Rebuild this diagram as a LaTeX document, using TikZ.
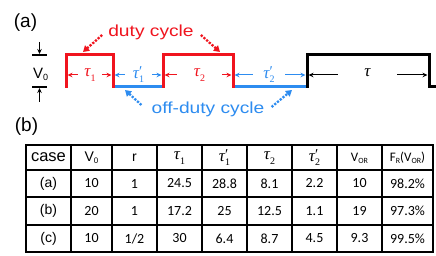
\documentclass[tikz,border=0pt]{standalone}
\usepackage{fontspec}
\usepackage{graphicx}
\setmainfont{Liberation Sans}
\newfontfamily\carl{Carlito}
\newfontfamily\tms{Liberation Serif}
\newfontfamily\widesans[FakeStretch=1.2]{Liberation Sans}
\usetikzlibrary{arrows.meta}
\definecolor{wred}{RGB}{240,20,30}
\definecolor{wblue}{RGB}{45,140,240}
\newcommand\tsym[2]{{\tms\itshape\fontsize{17}{17}\selectfont τ}\kern0.4pt\makebox[0pt][l]{\raisebox{1.5pt}{\tms\fontsize{15}{15}\selectfont#2}}\raisebox{-4.5pt}{\tms\fontsize{10}{10}\selectfont#1}}
\newcommand\sbs[2]{\raisebox{-2pt}{\fontsize{#1}{#1}\selectfont #2}}
\begin{document}
\begin{tikzpicture}[x=1pt,y=-1pt,
  wave/.style={line width=3pt,line join=miter},
  dimarrow/.style={line width=1pt,-{Stealth[length=5pt,width=4.5pt]}},
  dimlab/.style={inner sep=0pt,minimum height=12pt},
  callout/.style={line width=2.3pt,dash pattern=on 2.2pt off 1.4pt,-{Triangle[length=6pt,width=7pt]}},
  vmark/.style={line width=1.8pt},
  markarrow/.style={line width=1.2pt,-{Stealth[length=5pt,width=4.5pt]}},
  outer/.style={line width=2pt},
  gridline/.style={line width=1.5pt},
  num/.style={inner sep=0pt,font=\carl\fontsize{14}{14}\selectfont},
  lab/.style={inner sep=0pt,font=\fontsize{14}{14}\selectfont}
]
\useasboundingbox (0,0) rectangle (436,256);
\fill[white] (0,0) rectangle (436,256);

% panel labels
\node[inner sep=0pt,font=\fontsize{19}{19}\selectfont] (pa) at (25.5,23) {(a)};
\node[inner sep=0pt,font=\fontsize{19}{19}\selectfont] (pb) at (26.5,127) {(b)};

% waveform
\draw[wave,wblue] (113,87) -- (163,87);
\draw[wave,wblue] (233,87) -- (307,87);
\draw[wave,wred] (66,88) -- (66,55) -- (113,55) -- (113,88);
\draw[wave,wred] (163,88) -- (163,55) -- (233,55) -- (233,88);
\draw[wave,black] (307,88) -- (307,55) -- (429,55) -- (429,87) -- (437,87);

% dimension ends
\coordinate (e1) at (67.5,75);
\coordinate (e2) at (111.5,75);
\coordinate (e3) at (114.5,75);
\coordinate (e4) at (161.5,75);
\coordinate (e5) at (164.5,75);
\coordinate (e6) at (231.5,75);
\coordinate (e7) at (234.5,75);
\coordinate (e8) at (305.5,75);
\coordinate (e9) at (308.5,75);
\coordinate (e10) at (427.5,75);

\node[dimlab,minimum width=24pt,text=wred] (t1) at (90,75) {\tsym{1}{}};
\node[dimlab,minimum width=27pt,text=wblue] (t1p) at (138.5,75) {\tsym{1}{′}};
\node[dimlab,minimum width=45pt,text=wred] (t2) at (199.5,75) {\tsym{2}{}};
\node[dimlab,minimum width=32pt,text=wblue] (t2p) at (269,75) {\tsym{2}{′}};
\node[dimlab,minimum width=59pt,text=black] (tt) at (367.5,75) {\tsym{}{}};

\draw[dimarrow,wred] (t1) -- (e1);
\draw[dimarrow,wred] (t1) -- (e2);
\draw[dimarrow,wblue] (t1p) -- (e3);
\draw[dimarrow,wblue] (t1p) -- (e4);
\draw[dimarrow,wred] (t2) -- (e5);
\draw[dimarrow,wred] (t2) -- (e6);
\draw[dimarrow,wblue] (t2p) -- (e7);
\draw[dimarrow,wblue] (t2p) -- (e8);
\draw[dimarrow,black] (tt) -- (e9);
\draw[dimarrow,black] (tt) -- (e10);

% V0 marker
\coordinate (m1a) at (32,55);
\coordinate (m1b) at (47,55);
\coordinate (m2a) at (32,87);
\coordinate (m2b) at (47,87);
\coordinate (m1t) at (39.5,54);
\coordinate (m1s) at (39.5,42);
\coordinate (m2t) at (39.5,88);
\coordinate (m2s) at (39.5,102);
\draw[vmark] (m1a) -- (m1b);
\draw[vmark] (m2a) -- (m2b);
\draw[markarrow] (m1s) -- (m1t);
\draw[markarrow] (m2s) -- (m2t);
\node[inner sep=0pt,anchor=base west,font=\fontsize{15}{15}\selectfont] (v0) at (33,79) {V\sbs{9}{0}};

% callout texts
\node[inner sep=0pt,anchor=base,text=wred,font=\widesans\fontsize{16}{16}\selectfont] (duty) at (151,37) {duty cycle};
\node[inner sep=0pt,anchor=base,text=wblue,font=\widesans\fontsize{16}{16}\selectfont] (off) at (208,114) {off-duty cycle};
\coordinate (dl) at (83,52);
\coordinate (dr) at (220,52);
\coordinate (ol) at (125,90);
\coordinate (or) at (292,90);
\draw[callout,wred] ([shift={(-6,-2)}]duty.base west) -- (dl);
\draw[callout,wred] ([shift={(7,-2)}]duty.base east) -- (dr);
\draw[callout,wblue] ([shift={(-10,-9)}]off.base west) -- (ol);
\draw[callout,wblue] ([shift={(7,-7)}]off.base east) -- (or);

% table grid
\draw[gridline] (71,145) -- (71,252);
\draw[gridline] (112,145) -- (112,252);
\draw[gridline] (157,145) -- (157,252);
\draw[gridline] (202,145) -- (202,252);
\draw[gridline] (247,145) -- (247,252);
\draw[gridline] (292,145) -- (292,252);
\draw[gridline] (337,145) -- (337,252);
\draw[gridline] (382,145) -- (382,252);
\draw[gridline] (26,170) -- (433,170);
\draw[gridline] (26,197) -- (433,197);
\draw[gridline] (26,225) -- (433,225);
\draw[outer] (26,145) rectangle (433,252);

% header
\node[inner sep=0pt,font=\fontsize{16.5}{16.5}\selectfont] (h1) at (48.5,157.5) {case};
\node[lab] (h2) at (91.5,157.5) {V\sbs{8}{0}};
\node[lab] (h3) at (134.5,157.5) {r};
\node[inner sep=0pt] (h4) at (179.5,158) {\tsym{1}{}};
\node[inner sep=0pt] (h5) at (224.5,158) {\tsym{1}{′}};
\node[inner sep=0pt] (h6) at (269.5,158) {\tsym{2}{}};
\node[inner sep=0pt] (h7) at (314.5,158) {\tsym{2}{′}};
\node[num,font=\carl\fontsize{13}{13}\selectfont] (h8) at (359.5,158) {V\sbs{8}{OR}};
\node[num,font=\carl\fontsize{13}{13}\selectfont] (h9) at (407.5,158) {F\sbs{8}{R}(V\sbs{8}{OR})};

% row (a)
\node[lab] (a1) at (48.5,183.5) {(a)};
\node[num] (a2) at (91.5,183.5) {10};
\node[num] (a3) at (134.5,183.5) {1};
\node[num] (a4) at (179.5,183.5) {24.5};
\node[num] (a5) at (224.5,183.5) {28.8};
\node[num] (a6) at (269.5,183.5) {8.1};
\node[num] (a7) at (314.5,183.5) {2.2};
\node[num] (a8) at (359.5,183.5) {10};
\node[num] (a9) at (407.5,183.5) {98.2\%};

% row (b)
\node[lab] (b1) at (48.5,211) {(b)};
\node[num] (b2) at (91.5,211) {20};
\node[num] (b3) at (134.5,211) {1};
\node[num] (b4) at (179.5,211) {17.2};
\node[num] (b5) at (224.5,211) {25};
\node[num] (b6) at (269.5,211) {12.5};
\node[num] (b7) at (314.5,211) {1.1};
\node[num] (b8) at (359.5,211) {19};
\node[num] (b9) at (407.5,211) {97.3\%};

% row (c)
\node[lab] (c1) at (48.5,238.5) {(c)};
\node[num] (c2) at (91.5,238.5) {10};
\node[num] (c3) at (134.5,238.5) {1/2};
\node[num] (c4) at (179.5,238.5) {30};
\node[num] (c5) at (224.5,238.5) {6.4};
\node[num] (c6) at (269.5,238.5) {8.7};
\node[num] (c7) at (314.5,238.5) {4.5};
\node[num] (c8) at (359.5,238.5) {9.3};
\node[num] (c9) at (407.5,238.5) {99.5\%};
\end{tikzpicture}
\end{document}
